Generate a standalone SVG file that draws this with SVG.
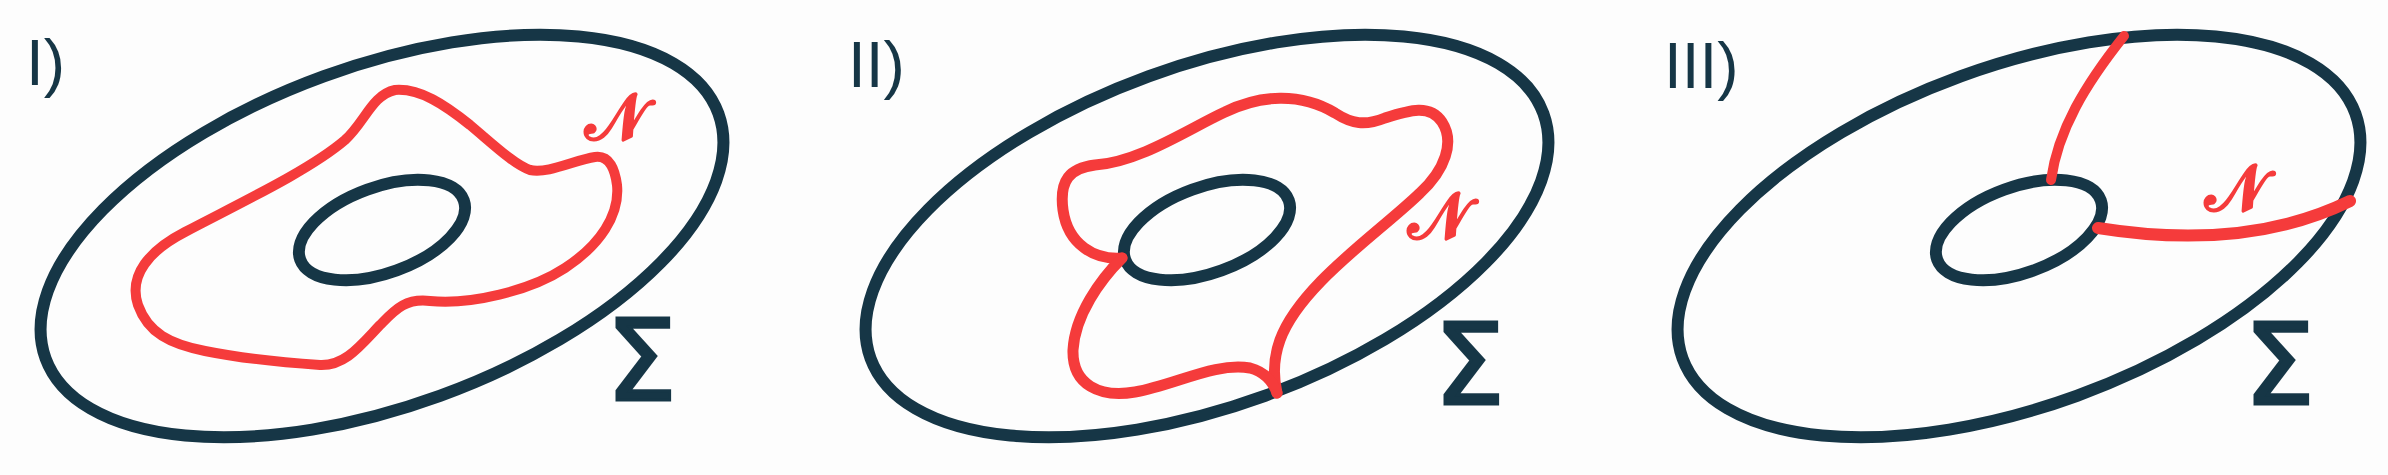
<svg xmlns="http://www.w3.org/2000/svg" xmlns:xlink="http://www.w3.org/1999/xlink" width="2388" height="475" viewBox="0 0 2388 475">
<style>
.dark{fill:none;stroke:#163646;stroke-width:12}
.red{fill:none;stroke:#f53b3b;stroke-width:10;stroke-linecap:round;stroke-linejoin:round}
.lbl{font-family:"Liberation Sans",Arial,sans-serif;font-size:64px;fill:#163646}
.sig{font-family:"DejaVu Sans",sans-serif;font-size:112px;fill:#163646;stroke:#163646;stroke-width:3}
.nn{font-family:"DejaVu Serif","DejaVu Sans",serif;font-size:64px;fill:#f53b3b;stroke:#f53b3b;stroke-width:3;stroke-linejoin:round}
</style>
<defs>
<g id="surface">
<ellipse class="dark" cx="382" cy="236" rx="358" ry="170" transform="rotate(-20 382 236)"/>
<ellipse class="dark" cx="382" cy="230" rx="87" ry="43" transform="rotate(-20 382 230)"/>
</g>
</defs>
<rect width="2388" height="475" fill="#fdfdfd"/>
<g id="panel1">
<use xlink:href="#surface"/>
<path class="red" d="M395 90 C420 88 445 105 470 125 C495 146 515 165 530 170 C548 174 575 160 595 157 C610 155 615 170 617 185 C620 215 600 245 565 268 C530 291 470 305 430 301 C405 298 395 310 380 325 C360 346 345 366 320 365 C290 363 240 358 205 351 C170 344 148 333 138 305 C128 275 150 250 185 232 C240 203 310 170 345 140 C365 122 372 95 395 90 Z"/>
<text class="lbl" x="26" y="85">I)</text>
<text class="sig" x="606" y="400">Σ</text>
<text class="nn" x="585" y="139">𝒩</text>
</g>
<g id="panel2">
<use xlink:href="#surface" x="825"/>
<path class="red" style="stroke-width:11" d="M1122 258 C1095 260 1068 245 1063 210 C1059 180 1070 168 1095 165 C1140 162 1190 128 1225 112 C1260 95 1300 92 1335 113 C1352 124 1365 126 1385 118 C1410 110 1430 104 1442 122 C1455 142 1445 170 1420 193 C1380 232 1300 285 1280 340 C1272 362 1274 380 1277 393"/>
<path class="red" style="stroke-width:11" d="M1122 258 C1100 280 1075 315 1073 350 C1072 385 1100 398 1135 392 C1175 385 1215 362 1250 368 C1265 372 1273 382 1277 393"/>
<text class="lbl" x="848" y="87">II)</text>
<text class="sig" x="1434" y="404">Σ</text>
<text class="nn" x="1408" y="238">𝒩</text>
</g>
<g id="panel3">
<use xlink:href="#surface" x="1637"/>
<path class="red" d="M2051 180 C2058 130 2085 85 2124 36"/>
<path class="red" style="stroke-width:12" d="M2098 228 C2160 238 2260 245 2350 201"/>
<text class="lbl" x="1664" y="88">III)</text>
<text class="sig" x="2244" y="404">Σ</text>
<text class="nn" x="2205" y="210">𝒩</text>
</g>
</svg>
